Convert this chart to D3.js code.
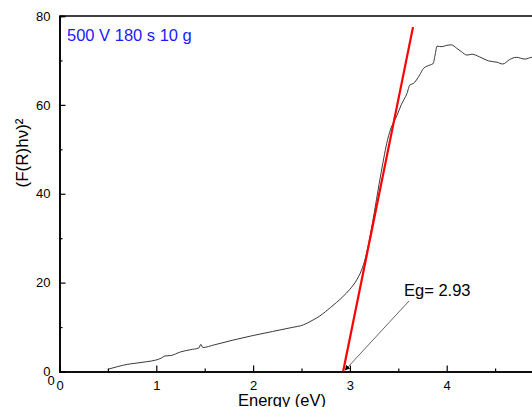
<!DOCTYPE html>
<html><head><meta charset="utf-8">
<script src="https://cdn.jsdelivr.net/npm/d3@7"></script>
<style>html,body{margin:0;padding:0;background:#fff;overflow:hidden}svg{display:block}</style>
</head><body>
<script>
const energy = [0.50,0.60,0.70,0.80,0.90,1.00,1.05,1.09,1.15,1.25,1.35,1.44,1.46,1.48,1.60,1.80,2.00,2.20,2.40,2.52,2.56,2.62,2.69,2.75,2.80,2.86,2.93,3.00,3.07,3.12,3.16,3.20,3.25,3.30,3.35,3.38,3.42,3.48,3.53,3.59,3.62,3.655,3.72,3.76,3.83,3.86,3.88,3.90,3.95,4.00,4.05,4.10,4.15,4.21,4.26,4.34,4.43,4.52,4.58,4.65,4.72,4.81,4.88,4.95,5.00];
const fr = [0.5,1.1,1.6,1.9,2.2,2.6,3.0,3.5,3.6,4.4,4.9,5.3,6.1,5.4,6.0,7.1,8.1,9.0,9.9,10.5,10.9,11.6,12.5,13.5,14.4,15.5,16.9,18.5,20.6,22.8,25.5,29.5,35.5,42.0,48.0,51.3,54.5,57.3,60.0,62.6,64.5,64.8,66.7,68.2,69.0,69.3,71.2,73.2,73.1,73.4,73.5,72.8,72.0,71.2,71.4,70.8,69.9,69.6,69.2,70.2,70.7,70.3,70.7,70.5,70.6];
const fitX = [2.93, 3.652];
const fitY = [0, 77.5];
const xTicks = [0,1,2,3,4];
const yTicks = [0,20,40,60,80];
const titleText = "500 V 180 s 10 g";
const egText = "Eg= 2.93";

const W = 532, H = 407;
const L = 59.5, T = 16, R = 543.5, B = 371.5;
const svg = d3.select("body").append("svg").attr("width", W).attr("height", H);
const x = d3.scaleLinear().domain([0,5]).range([L,R]);
const y = d3.scaleLinear().domain([0,80]).range([B,T]);
const font = "Arial, 'Liberation Sans', sans-serif";

// minor ticks
const gx = svg.append("g").attr("transform", `translate(0,${B})`)
  .call(d3.axisBottom(x).tickValues([0.5,1.5,2.5,3.5,4.5]).tickSize(-3).tickFormat(""));
const gx2 = svg.append("g").attr("transform", `translate(0,${B})`)
  .call(d3.axisBottom(x).tickValues(xTicks).tickSize(-6).tickPadding(11).tickFormat(d3.format("d")));
const gy = svg.append("g").attr("transform", `translate(${L},0)`)
  .call(d3.axisLeft(y).tickValues([10,30,50,70]).tickSize(-3).tickFormat(""));
const gy2 = svg.append("g").attr("transform", `translate(${L},0)`)
  .call(d3.axisLeft(y).tickValues(yTicks).tickSize(-6).tickPadding(9).tickFormat(d3.format("d")));
[gx,gx2,gy,gy2].forEach(g=>{
  g.select(".domain").attr("stroke","#000").attr("stroke-width",1.6);
  g.selectAll(".tick line").attr("stroke","#000").attr("stroke-width",1.2);
  g.selectAll("text").attr("font-family",font).attr("font-size",13).attr("fill","#000");
});
gx2.selectAll(".tick text").attr("dy","0.6em");
// top frame line
svg.append("line").attr("x1",L).attr("x2",W).attr("y1",T).attr("y2",T).attr("stroke","#000").attr("stroke-width",1.6);
// extra origin zero
svg.append("text").attr("x",51).attr("y",385).attr("text-anchor","middle")
  .attr("font-family",font).attr("font-size",13).text("0");

// data curve
svg.append("path").datum(energy.map((e,i)=>[e,fr[i]]))
  .attr("fill","none").attr("stroke","#222").attr("stroke-width",0.9)
  .attr("d", d3.line().curve(d3.curveMonotoneX).x(d=>x(d[0])).y(d=>y(d[1])));

// fit line
svg.append("path").datum(fitX.map((e,i)=>[e,fitY[i]]))
  .attr("fill","none").attr("stroke","#ff0000").attr("stroke-width",2.2)
  .attr("d", d3.line().x(d=>x(d[0])).y(d=>y(d[1])));

// annotation arrow
svg.append("defs").append("marker").attr("id","ah").attr("viewBox","0 0 10 10")
  .attr("refX",9).attr("refY",5).attr("markerWidth",6).attr("markerHeight",6).attr("orient","auto")
  .append("path").attr("d","M0,0L10,5L0,10z").attr("fill","#000");
svg.append("line").attr("x1",409).attr("y1",301).attr("x2",x(2.95)).attr("y2",y(0.3))
  .attr("stroke","#555").attr("stroke-width",0.9).attr("marker-end","url(#ah)");
svg.append("text").attr("x",404).attr("y",296).attr("font-family",font).attr("font-size",16.5).attr("fill","#000").text(egText);

// title
svg.append("text").attr("x",67).attr("y",41).attr("font-family",font).attr("font-size",16.5).attr("fill","#1a1aff").text(titleText);

// axis labels
svg.append("text").attr("x",282).attr("y",406).attr("text-anchor","middle").attr("font-family",font).attr("font-size",16.5).text("Energy (eV)");
svg.append("text").attr("transform","translate(28,153) rotate(-90)").attr("text-anchor","middle")
  .attr("font-family",font).attr("font-size",17).text("(F(R)hν)²");
</script>
</body></html>
